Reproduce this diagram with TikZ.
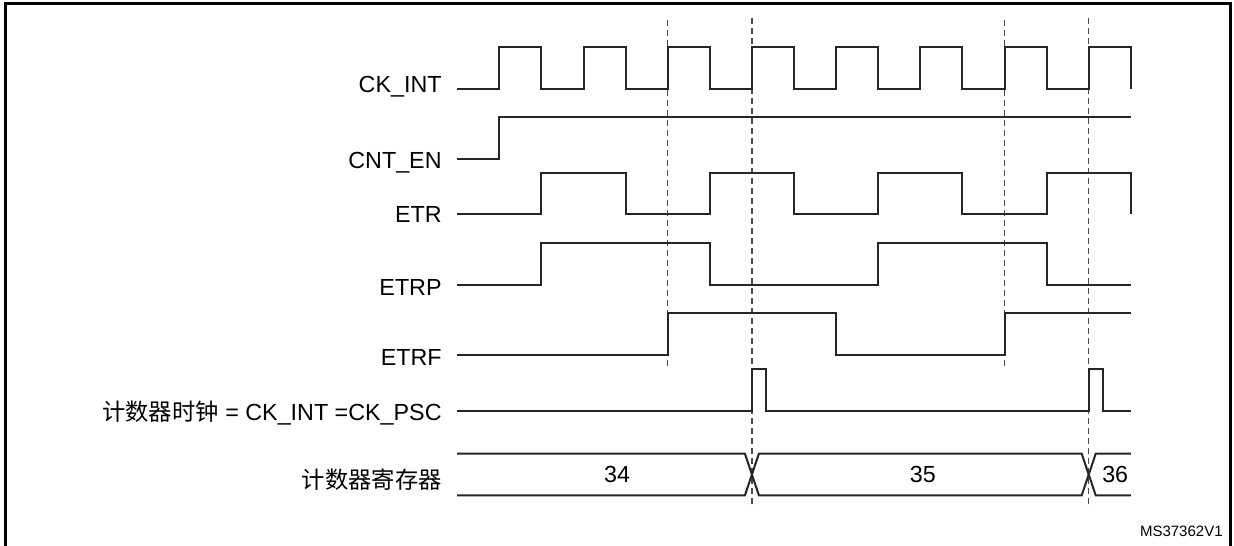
\documentclass[tikz,border=0pt]{standalone}
\usepackage{fontspec}
\setmainfont{Liberation Sans}
\newfontfamily\cjk{Noto Sans CJK SC}
\begin{document}
\begin{tikzpicture}[x=0.5pt,y=-0.5pt,
  sig/.style={line width=1pt,line join=miter,color=black!85},
  guide/.style={line width=0.75pt,color=black!70,dash pattern=on 3pt off 2pt},
  lbl/.style={anchor=base east,inner sep=0pt,font=\fontsize{11.65}{14}\selectfont},
  val/.style={inner sep=0pt,font=\fontsize{11.65}{14}\selectfont},
  frame/.style={line width=1.5pt}]
\useasboundingbox (0,0) rectangle (1234,545);
\draw[frame] (5.5,546) -- (5.5,3.7) -- (1230.7,3.7) -- (1230.7,546);

% labels
\node[lbl] (lck) at (442,92.7) {CK\_INT};
\node[lbl] (len) at (442,168.3) {CNT\_EN};
\node[lbl] (letr) at (442,222.7) {ETR};
\node[lbl] (letrp) at (442,295) {ETRP};
\node[lbl] (letrf) at (442,365) {ETRF};
\node[lbl] (lpsc) at (442,420) {{\cjk 计数器时钟} = CK\_INT =CK\_PSC};
\node[anchor=east,inner sep=0pt,font=\fontsize{11.65}{14}\selectfont\cjk] (lreg) at (442,480) {计数器寄存器};
\node[anchor=base east,inner sep=0pt,font=\fontsize{7.5}{9}\selectfont] (ms) at (1223,536) {MS37362V1};

\begin{scope}[xshift=249.65pt,x=21.05pt]
  % guides
  \draw[guide] (4,20) -- (4,368);
  \draw[guide] (6,18) -- (6,508);
  \draw[guide] (12,20) -- (12,368);
  \draw[guide] (14,18) -- (14,508);
  % CK_INT
  \draw[sig] (-1,88.7) foreach \k in {0,2,...,14} { -- (\k,88.7) -- (\k,46.7) -- (\k+1,46.7) -- (\k+1,88.7) };
  % CNT_EN
  \draw[sig] (-1,158.7) -- (0,158.7) -- (0,116.7) -- (15,116.7);
  % ETR
  \draw[sig] (-1,214.3) -- (1,214.3) -- (1,172.7) -- (3,172.7) -- (3,214.3) -- (5,214.3) -- (5,172.7) -- (7,172.7) -- (7,214.3) -- (9,214.3) -- (9,172.7) -- (11,172.7) -- (11,214.3) -- (13,214.3) -- (13,172.7) -- (15,172.7) -- (15,214.3);
  % ETRP
  \draw[sig] (-1,285.3) -- (1,285.3) -- (1,242.7) -- (5,242.7) -- (5,285.3) -- (9,285.3) -- (9,242.7) -- (13,242.7) -- (13,285.3) -- (15,285.3);
  % ETRF
  \draw[sig] (-1,355.3) -- (4,355.3) -- (4,313.3) -- (8,313.3) -- (8,355.3) -- (12,355.3) -- (12,313.3) -- (15,313.3);
  % counter clock
  \draw[sig] (-1,411.3) -- (6,411.3) -- (6,369.3) -- (6.34,369.3) -- (6.34,411.3) -- (14,411.3) -- (14,369.3) -- (14.33,369.3) -- (14.33,411.3) -- (15,411.3);
  % register
  \draw[sig] (-1,453.7) -- (5.834,453.7) -- (6.166,495.3) -- (13.834,495.3) -- (14.166,453.7) -- (15,453.7);
  \draw[sig] (-1,495.3) -- (5.834,495.3) -- (6.166,453.7) -- (13.834,453.7) -- (14.166,495.3) -- (15,495.3);
  \node[val] (v34) at (2.8,474.5) {34};
  \node[val] (v35) at (10.06,474.5) {35};
  \node[val] (v36) at (14.63,474.5) {36};
\end{scope}
\end{tikzpicture}
\end{document}
